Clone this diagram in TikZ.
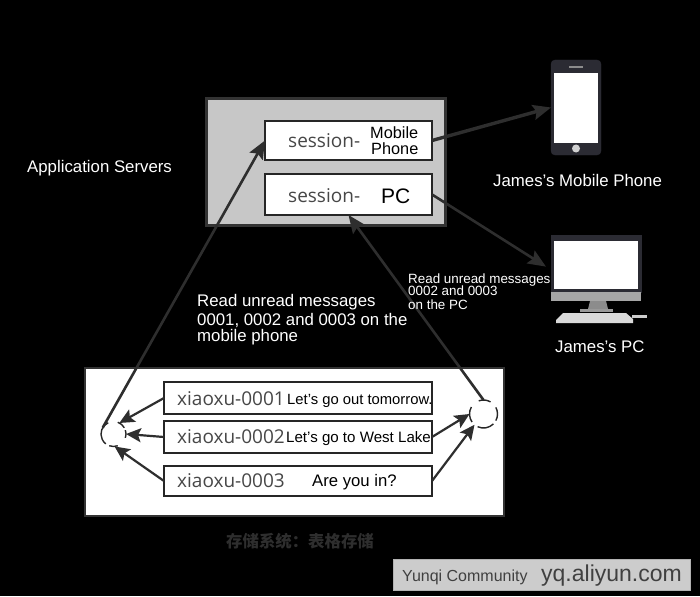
\documentclass[tikz,border=0pt]{standalone}
\usepackage{fontspec}
\setmainfont{Liberation Sans}
\newfontfamily\keyfont{Open Sans}
\newfontfamily\cjkfont{Noto Sans CJK SC}
\usetikzlibrary{arrows.meta}
\definecolor{wire}{HTML}{2E2E2E}
\definecolor{bodydark}{HTML}{2B2B33}
\tikzset{
  x=1pt,y=-1pt,
  panel/.style={draw=#1,inner sep=0pt,outer sep=0pt},
  rowbox/.style={panel=black!85,fill=white,line width=1.8pt,minimum width=268pt,minimum height=#1},
  sessbox/.style={panel=black!85,fill=white,line width=2.4pt,minimum width=167pt,minimum height=#1},
  link/.style={draw=wire,line width=2.6pt,-{Stealth[length=18pt,width=15pt,inset=3pt]}},
  rowlink/.style={draw=wire,line width=2.2pt,-{Stealth[length=15pt,width=14pt,inset=3pt]}},
  hub/.style={circle,minimum size=25pt,inner sep=0pt,outer sep=0pt},
  ringarc/.style={draw=black!85,line width=1.4pt},
  label/.style={text=white,anchor=base west,inner sep=0pt,font=\fontsize{16.8}{18}\selectfont},
  small/.style={label,font=\fontsize{13.4}{14}\selectfont},
  keytext/.style={text=black!72,anchor=base west,inner sep=0pt,font=\keyfont\fontsize{19}{20}\selectfont},
  msgtext/.style={text=black,anchor=base west,inner sep=0pt,font=\fontsize{14.8}{15}\selectfont},
}
\begin{document}
\begin{tikzpicture}
\path[use as bounding box,fill=black] (0,0) rectangle (700,596);

% application server with its two sessions
\node[panel=black!80,fill=black!22,line width=3pt,minimum width=239pt,minimum height=126pt] (server) at (325.5,162) {};
\node[sessbox=39pt] (sessmob) at (348.5,140.5) {};
\node[sessbox=41pt] (sesspc) at (348.5,194.5) {};
\node[keytext] (smlabel) at (288,147) {session-};
\node[keytext] (splabel) at (288,202) {session-};
\node[msgtext,font=\fontsize{16.3}{15}\selectfont] (mobile) at (370,139) {Mobile};
\node[msgtext,font=\fontsize{16.3}{15}\selectfont] (phoneword) at (371,154) {Phone};
\node[msgtext,font=\fontsize{21}{22}\selectfont] (pcword) at (381,203) {PC};

% storage table
\node[panel=black!80,fill=white,line width=1.5pt,minimum width=419pt,minimum height=148pt] (store) at (294.5,442) {};
\node[rowbox=32pt] (rowa) at (298,398) {};
\node[rowbox=32pt] (rowb) at (298,437) {};
\node[rowbox=30pt] (rowc) at (298,481) {};
\node[keytext] (keya) at (177,405) {xiaoxu-0001};
\node[keytext] (keyb) at (177,443) {xiaoxu-0002};
\node[keytext] (keyc) at (177,487) {xiaoxu-0003};
\node[msgtext] (msga) at (287,404) {Let's go out tomorrow.};
\node[msgtext,font=\fontsize{15.1}{15}\selectfont] (msgb) at (286,442) {Let's go to West Lake};
\node[msgtext,font=\fontsize{16.7}{17}\selectfont] (msgc) at (312,486) {Are you in?};

% merge points beside the table
\node[hub] (lefthub) at (113.5,434) {};
\node[hub,minimum size=28pt] (righthub) at (483.5,414) {};
\draw[ringarc] (lefthub.115) arc[start angle=115,end angle=232,radius=12.5pt];
\draw[ringarc] (lefthub.70) arc[start angle=70,end angle=30,radius=12.5pt];
\draw[ringarc] (lefthub.18) arc[start angle=18,end angle=-18,radius=12.5pt];
\draw[ringarc] (lefthub.-70) arc[start angle=-70,end angle=-110,radius=12.5pt];
\draw[ringarc] (righthub.150) arc[start angle=150,end angle=215,radius=14pt];
\draw[ringarc] (righthub.110) arc[start angle=110,end angle=60,radius=14pt];
\draw[ringarc] (righthub.28) arc[start angle=28,end angle=-28,radius=14pt];
\draw[ringarc] (righthub.-45) arc[start angle=-45,end angle=-115,radius=14pt];

% phone
\node[panel=bodydark,fill=bodydark,rounded corners=4pt,minimum width=50pt,minimum height=95pt] (phone) at (576,107.5) {};
\node[fill=white,inner sep=0pt,minimum width=44pt,minimum height=70pt] (phonescreen) at (576,108) {};
\node[circle,fill=black!18,inner sep=0pt,minimum size=8pt] (homebtn) at (576,148.5) {};
\node[fill=black!45,inner sep=0pt,minimum width=14pt,minimum height=2pt] (speaker) at (576,67) {};

% desktop computer
\node[panel=bodydark,fill=bodydark,minimum width=90pt,minimum height=57pt] (monitor) at (596,263.5) {};
\node[fill=white,inner sep=0pt,minimum width=84pt,minimum height=48pt] (pcscreen) at (596,265) {};
\node[fill=black!35,inner sep=0pt,minimum width=90pt,minimum height=9pt] (chin) at (596,296.5) {};
\fill[black!45] (590,301) -- (606,301) -- (608,309) -- (588,309) -- cycle;
\fill[black!40] (580,309) rectangle (613,312);
\fill[black!15] (563,313) -- (626,313) -- (633,319) -- (633,323) -- (556,323) -- (556,320) -- cycle;
\fill[black!20] (632,315) rectangle (647,318);

% connectors
\draw[link] (lefthub.150) -- (sessmob.west);
\draw[link] (righthub.north) -- (sesspc.south);
\draw[link,line width=3.4pt] (sessmob.east) -- (phone.west);
\draw[link,shorten >=6pt] (sesspc.east) -- (monitor.188);
\draw[rowlink] (rowa.west) -- (lefthub.62);
\draw[rowlink] (rowb.west) -- (lefthub.east);
\draw[rowlink] (rowc.west) -- (lefthub.-85);
\draw[rowlink] (rowb.east) -- (righthub.west);
\draw[rowlink] (rowc.east) -- (righthub.-130);

% captions
\node[label] (appservers) at (27,172) {Application Servers};
\node[label] (mobcap) at (493,186) {James's Mobile Phone};
\node[label] (pccap) at (555,352) {James's PC};
\node[label] (reada) at (197,306) {Read unread messages};
\node[label] (readb) at (197,325) {0001, 0002 and 0003 on the};
\node[label] (readc) at (197,341) {mobile phone};
\node[small] (pca) at (408,283) {Read unread messages};
\node[small] (pcb) at (408,295.5) {0002 and 0003};
\node[small] (pcc) at (408,309) {on the PC};
\node[text=black!82,inner sep=0pt,font=\cjkfont\bfseries\fontsize{16.4}{17}\selectfont] (storecap) at (300,541) {存储系统：表格存储};

% credit strip
\node[panel=black!30,fill=black!20,line width=.6pt,minimum width=297pt,minimum height=31pt] (credit) at (541.5,574.5) {};
\node[text=black!75,anchor=base west,inner sep=0pt,font=\fontsize{16}{17}\selectfont] (creditname) at (402,581) {Yunqi Community};
\node[text=black!75,anchor=base west,inner sep=0pt,font=\fontsize{23}{24}\selectfont] (crediturl) at (541,581) {yq.aliyun.com};
\end{tikzpicture}
\end{document}
